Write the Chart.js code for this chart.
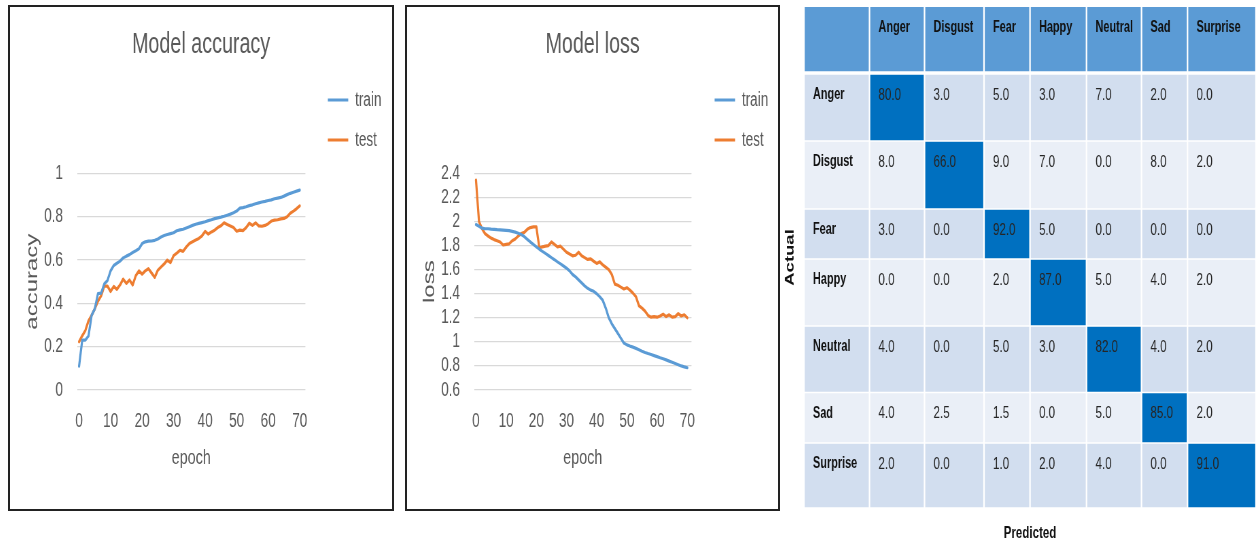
<!DOCTYPE html>
<html lang="en">
<head>
<meta charset="UTF-8" />
<title>Model accuracy, model loss and confusion matrix</title>
<script src="https://cdn.jsdelivr.net/npm/chart.js"></script>
<style>
  html, body { margin: 0; padding: 0; background: #fff; }
  body { width: 1256px; height: 546px; position: relative; overflow: hidden; }
  .panel { position: absolute; top: 5px; height: 506px; border: 2px solid #222; box-sizing: border-box; }
  #accPanel { left: 8px; width: 386px; }
  #lossPanel { left: 405px; width: 375px; }
  #matrixWrap { position: absolute; left: 780px; top: 0; width: 476px; height: 546px; }
  /* the original figure is squeezed sideways; draw wider, then squeeze */
  canvas { position: absolute; left: 0; top: 0; transform-origin: 0 0; }
</style>
</head>
<body>
  <div class="panel" id="accPanel"><canvas id="accChart"></canvas></div>
  <div class="panel" id="lossPanel"><canvas id="lossChart"></canvas></div>
  <div id="matrixWrap"><canvas id="matrixChart"></canvas></div>

<script>
// --- data ---
const trainAcc = [
  0.11, 0.23, 0.23, 0.25, 0.345, 0.375, 0.445, 0.447, 0.49, 0.505,
  0.55, 0.575, 0.585, 0.595, 0.61, 0.618, 0.625, 0.635, 0.643, 0.652,
  0.676, 0.684, 0.687, 0.688, 0.691, 0.697, 0.706, 0.713, 0.718, 0.722,
  0.726, 0.735, 0.739, 0.742, 0.748, 0.754, 0.76, 0.765, 0.769, 0.773,
  0.777, 0.782, 0.786, 0.791, 0.795, 0.798, 0.802, 0.807, 0.812, 0.818,
  0.826, 0.84, 0.842, 0.846, 0.851, 0.855, 0.86, 0.864, 0.868, 0.871,
  0.875, 0.878, 0.883, 0.886, 0.889, 0.895, 0.902, 0.908, 0.913, 0.918,
  0.923
];
const testAcc = [
  0.223, 0.25, 0.275, 0.32, 0.345, 0.375, 0.41, 0.435, 0.48, 0.48,
  0.455, 0.478, 0.465, 0.485, 0.512, 0.492, 0.508, 0.485, 0.528, 0.55,
  0.535, 0.55, 0.56, 0.54, 0.52, 0.553, 0.568, 0.582, 0.6, 0.588,
  0.62, 0.632, 0.645, 0.64, 0.66, 0.676, 0.684, 0.692, 0.7, 0.712,
  0.732, 0.72, 0.73, 0.738, 0.75, 0.758, 0.772, 0.764, 0.757, 0.75,
  0.733, 0.738, 0.736, 0.75, 0.77, 0.76, 0.772, 0.758, 0.756, 0.76,
  0.768, 0.78, 0.784, 0.786, 0.79, 0.792, 0.8, 0.816, 0.826, 0.837,
  0.85
];
const trainLoss = [
  1.975, 1.96, 1.945, 1.94, 1.94, 1.937, 1.935, 1.932, 1.93, 1.928,
  1.926, 1.924, 1.918, 1.912, 1.903, 1.892, 1.875, 1.852, 1.83, 1.81,
  1.79, 1.77, 1.752, 1.735, 1.718, 1.7, 1.683, 1.665, 1.648, 1.63,
  1.612, 1.59, 1.56, 1.54, 1.515, 1.49, 1.465, 1.445, 1.43, 1.42,
  1.4, 1.375, 1.345, 1.28, 1.2, 1.15, 1.11, 1.07, 1.03, 0.99,
  0.975, 0.965, 0.956, 0.946, 0.935, 0.922, 0.912, 0.903, 0.895, 0.886,
  0.877, 0.868, 0.86, 0.85, 0.84, 0.83, 0.82, 0.81, 0.8, 0.792,
  0.785
];
const testLoss = [
  2.345, 2.0, 1.94, 1.9, 1.88, 1.862, 1.85, 1.84, 1.83, 1.805,
  1.81, 1.815, 1.84, 1.855, 1.88, 1.9, 1.91, 1.935, 1.95, 1.955,
  1.955, 1.78, 1.79, 1.795, 1.8, 1.83, 1.81, 1.79, 1.795, 1.77,
  1.745, 1.73, 1.715, 1.72, 1.745, 1.715, 1.7, 1.685, 1.69, 1.67,
  1.652, 1.665, 1.64, 1.62, 1.6, 1.56, 1.48, 1.47, 1.455, 1.44,
  1.45, 1.43, 1.405, 1.375, 1.3, 1.28, 1.255, 1.22, 1.205, 1.21,
  1.205, 1.215, 1.23, 1.21, 1.225, 1.205, 1.21, 1.235, 1.215, 1.225,
  1.2
];
const epochTicks = [0, 10, 20, 30, 40, 50, 60, 70];
const accTicks = [0, 0.2, 0.4, 0.6, 0.8, 1];
const lossTicks = [0.6, 0.8, 1, 1.2, 1.4, 1.6, 1.8, 2, 2.2, 2.4];

const emotions = ['Anger', 'Disgust', 'Fear', 'Happy', 'Neutral', 'Sad', 'Surprise'];
// rows = actual, columns = predicted
const confusion = [
  [80, 3, 5, 3, 7, 2, 0],
  [8, 66, 9, 7, 0, 8, 2],
  [3, 0, 92, 5, 0, 0, 0],
  [0, 0, 2, 87, 5, 4, 2],
  [4, 0, 5, 3, 82, 4, 2],
  [4, 2.5, 1.5, 0, 5, 85, 2],
  [2, 0, 1, 2, 4, 0, 91]
];

// --- look ---
const SQUEEZE = 0.68;               // horizontal squeeze of the whole figure
const px = v => v / SQUEEZE;        // page px (horizontal) -> canvas px
const BLUE = '#5B9BD5';
const ORANGE = '#ED7D31';
const GREY = '#595959';
const FONT = "'Liberation Sans', Arial, sans-serif";
// matrix layout (page px): label column + predicted columns, header row + actual rows
const colWidths = [65.5, 55, 59.5, 46, 56.5, 55, 46, 68.5];
const rowHeights = [67, 67, 68, 50, 67, 66.5, 50.5, 65];

function prepCanvas(id, pageWidth, height) {
  const canvas = document.getElementById(id);
  canvas.width = Math.round(px(pageWidth));
  canvas.height = height;
  canvas.style.transform = `scaleX(${SQUEEZE})`;
  return canvas;
}

// moves the legend sideways after layout, so the gap to the plot can differ from the row gap
const legendNudge = {
  id: 'legendNudge',
  afterLayout(chart, args, opts) {
    chart.legend.left += opts.dx || 0;
    chart.legend.right += opts.dx || 0;
  }
};

function lineChart(id, opts) {
  const canvas = prepCanvas(id, opts.pageWidth, 502);
  const epochs = opts.train.map((_, i) => i);
  const side = 18.7;                 // same padding left and right keeps the title centred
  const yTitleFont = 24;
  return new Chart(canvas, {
    type: 'line',
    data: {
      labels: epochs,
      datasets: [
        { label: 'train', data: opts.train, borderColor: BLUE, backgroundColor: BLUE, pointBorderColor: BLUE, pointBorderWidth: 3 },
        { label: 'test', data: opts.test, borderColor: ORANGE, backgroundColor: ORANGE, pointBorderColor: ORANGE, pointBorderWidth: 3 }
      ]
    },
    options: {
      responsive: false,
      animation: false,
      layout: { padding: { top: 0, right: side, bottom: 0, left: side } },
      elements: {
        point: { radius: 0, hoverRadius: 0 },
        line: { borderWidth: 3.2, tension: 0, borderJoinStyle: 'round', borderCapStyle: 'round' }
      },
      plugins: {
        title: {
          display: true,
          text: opts.title,
          color: GREY,
          font: { family: FONT, size: 29, weight: 'normal' },
          padding: { top: 20.6, bottom: 111 }
        },
        legend: {
          position: 'right',
          align: 'start',
          title: { display: true, text: '', font: { size: 10 }, padding: { top: 51, bottom: 0 } },
          labels: {
            usePointStyle: true,
            pointStyle: 'line',
            pointStyleWidth: 30,
            padding: 20,
            color: GREY,
            font: { family: FONT, size: 20 }
          }
        },
        legendNudge: { dx: opts.legendDx },
        tooltip: { enabled: false }
      },
      scales: {
        x: {
          type: 'linear',
          min: opts.xMin,
          max: opts.xMax,
          afterBuildTicks: s => { s.ticks = epochTicks.map(v => ({ value: v })); },
          afterFit: s => { s.height = 119; },
          grid: { display: false, drawTicks: false },
          border: { display: false },
          ticks: { color: GREY, padding: 19, maxRotation: 0, autoSkip: false, font: { family: FONT, size: 20 } },
          title: { display: true, text: 'epoch', color: GREY, font: { family: FONT, size: 21 }, padding: { top: 0, bottom: 38.4 } }
        },
        y: {
          min: opts.yTicks[0],
          max: opts.yTicks[opts.yTicks.length - 1],
          afterBuildTicks: s => { s.ticks = opts.yTicks.map(v => ({ value: v })); },
          afterFit: s => { s.width = px(67) - side; },
          grid: { color: '#D9D9D9', lineWidth: 1.2, drawTicks: false },
          border: { display: false },
          ticks: {
            color: GREY, padding: px(14), autoSkip: false,
            font: { family: FONT, size: 20 },
            callback: v => String(Math.round(v * 10) / 10)
          },
          title: {
            display: true, text: opts.yTitle, color: GREY,
            font: { family: FONT, size: yTitleFont },
            padding: { top: Math.max(0, px(23) - side - yTitleFont * 0.6), bottom: 0 }
          }
        }
      }
    },
    plugins: [legendNudge]
  });
}

lineChart('accChart', {
  title: 'Model accuracy', yTitle: 'accuracy',
  train: trainAcc, test: testAcc,
  yTicks: accTicks, xMin: -0.65, xMax: 71.8,
  pageWidth: 382, legendDx: 13
});
lineChart('lossChart', {
  title: 'Model loss', yTitle: 'loss',
  train: trainLoss, test: testLoss,
  yTicks: lossTicks, xMin: -0.65, xMax: 71.4,
  pageWidth: 371, legendDx: 14
});

// --- confusion matrix: one floating horizontal bar per cell, one dataset per row ---
const rowKeys = ['', ...emotions];           // header row + actual classes
const edges = [0];
colWidths.forEach(w => edges.push(edges[edges.length - 1] + w));
const rowTops = [0];
rowHeights.forEach(h => rowTops.push(rowTops[rowTops.length - 1] + h));

function cellColor(r, c) {
  if (r === 0) return '#5B9BD5';
  if (c > 0 && r === c) return '#0070C0';
  return r % 2 === 1 ? '#D2DEEF' : '#EAEFF7';
}
function cellLabel(r, c) {
  if (r === 0) return c === 0 ? '' : emotions[c - 1];
  if (c === 0) return emotions[r - 1];
  return confusion[r - 1][c - 1].toFixed(1);
}

const cellText = {
  id: 'cellText',
  afterDatasetsDraw(chart) {
    const { ctx } = chart;
    ctx.save();
    ctx.textAlign = 'left';
    ctx.textBaseline = 'middle';
    chart.data.datasets.forEach((ds, r) => {
      chart.getDatasetMeta(r).data.forEach((bar, c) => {
        const text = cellLabel(r, c);
        if (!text) return;
        const { x, y, base, height } = bar.getProps(['x', 'y', 'base', 'height'], true);
        const bold = r === 0 || c === 0;
        ctx.font = (bold ? 'bold 16px ' : '17px ') + FONT;
        ctx.fillStyle = bold ? '#111111' : '#262626';
        ctx.fillText(text, Math.min(x, base) + px(9), y - height / 2 + 21);
      });
    });
    ctx.restore();
  }
};

const sideLine = px(1);
new Chart(prepCanvas('matrixChart', 476, 546), {
  type: 'bar',
  data: {
    datasets: rowKeys.map((key, r) => ({
      label: key,
      data: colWidths.map((w, c) => ({ y: rowTops[r] + rowHeights[r] / 2, x: [edges[c], edges[c + 1]] })),
      backgroundColor: ctx => cellColor(r, ctx.dataIndex),
      borderColor: '#ffffff',
      borderWidth: r === 0
        ? { top: 0, left: sideLine, right: sideLine, bottom: 3 }
        : { top: 1, left: sideLine, right: sideLine, bottom: 1 },
      borderSkipped: false,
      grouped: false,
      barThickness: ctx => {
        const s = ctx.chart.scales.y;
        return Math.abs(s.getPixelForValue(rowHeights[r]) - s.getPixelForValue(0));
      }
    }))
  },
  options: {
    indexAxis: 'y',
    responsive: false,
    animation: false,
    layout: { padding: { top: 7, right: 0, bottom: 0, left: 0 } },
    plugins: { legend: { display: false }, tooltip: { enabled: false } },
    scales: {
      x: {
        type: 'linear',
        min: 0,
        max: edges[edges.length - 1],
        afterFit: s => { s.height = 38; },
        grid: { display: false, drawTicks: false },
        border: { display: false },
        ticks: { display: false },
        title: { display: true, text: 'Predicted', color: '#111111', font: { family: FONT, size: 17, weight: 'bold' }, padding: { top: 0, bottom: 2.8 } }
      },
      y: {
        type: 'linear',
        reverse: true,
        offset: false,
        min: 0,
        max: rowTops[rowTops.length - 1],
        afterFit: s => { s.width = px(24); },
        grid: { display: false, drawTicks: false },
        border: { display: false },
        ticks: { display: false },
        title: { display: true, text: 'Actual', color: '#111111', font: { family: FONT, size: 18.5, weight: 'bold' }, padding: { top: px(10) - 11.1, bottom: 0 } }
      }
    }
  },
  plugins: [cellText]
});
</script>
</body>
</html>
